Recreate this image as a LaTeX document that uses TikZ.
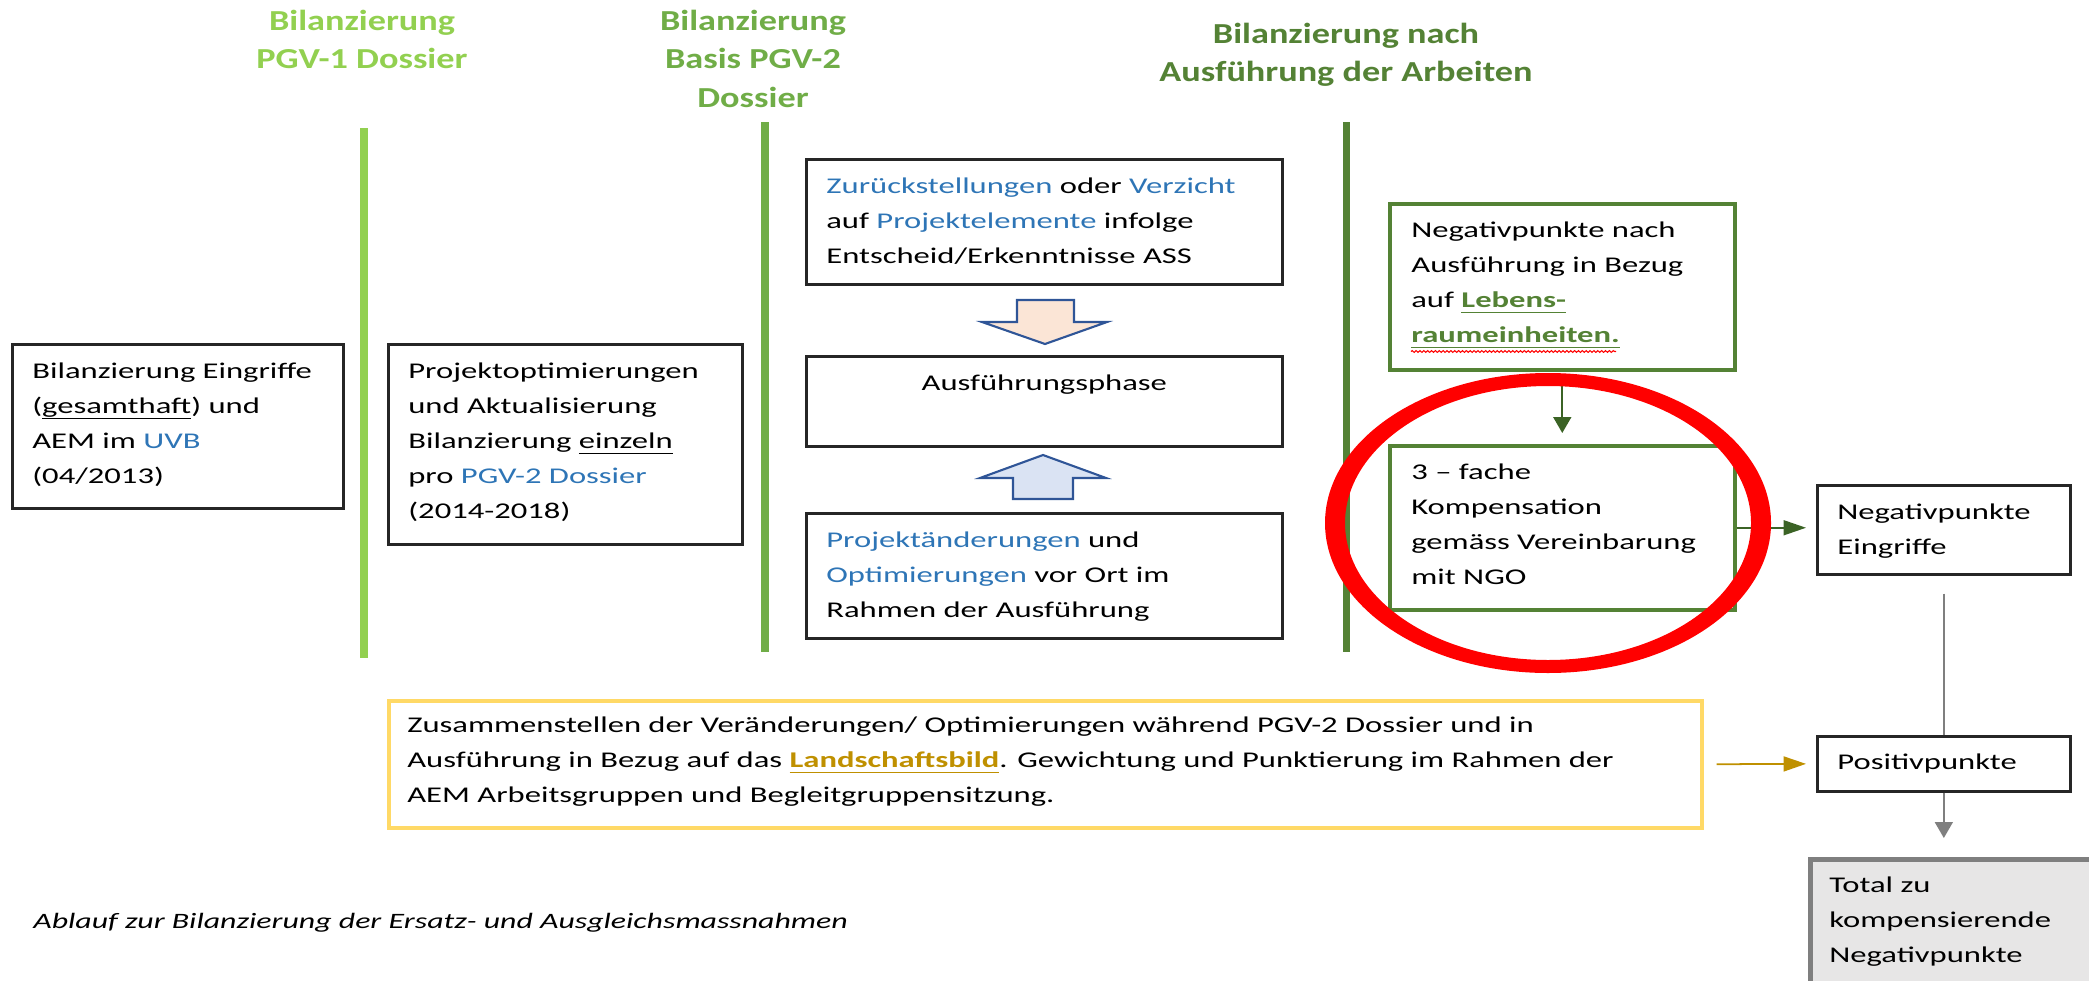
\documentclass[tikz,border=0pt]{standalone}
\usepackage{fontspec}
\setmainfont{Carlito}[FakeStretch=1.45]
\newfontfamily\headfont{Carlito}[FakeStretch=1.25]
\usetikzlibrary{positioning,arrows.meta,decorations.pathmorphing}

\definecolor{wordblue}{HTML}{2E75B6}
\definecolor{greenA}{HTML}{92D050}
\definecolor{greenB}{HTML}{70AD47}
\definecolor{greenC}{HTML}{548235}
\definecolor{arrowgreen}{HTML}{3B6325}
\definecolor{gold}{HTML}{BF9000}
\definecolor{yellowline}{HTML}{FFD966}
\definecolor{peach}{HTML}{FBE5D6}
\definecolor{paleblue}{HTML}{DAE3F3}
\definecolor{arrowblue}{HTML}{2F5597}
\definecolor{totalfill}{HTML}{E7E6E6}
\definecolor{totalline}{HTML}{7F7F7F}

\newcommand\bodyfont{\fontsize{12.8}{19.9}\selectfont}
\newcommand\headerfont{\headfont\bfseries\fontsize{16.5}{21.9}\selectfont}
\newcommand\kw[1]{\textcolor{wordblue}{#1}}
\newcommand\ulw[1]{\setbox0\hbox{#1}\rlap{\vrule height -2.2pt depth 3pt width \wd0}\box0}
\newcommand\ulgreen[1]{\textcolor{greenC}{\bfseries\ulw{#1}}}

\begin{document}
\begin{tikzpicture}[
    box/.style={draw=black!85, line width=1.5pt, anchor=north west, inner sep=0pt},
    greenbox/.style={box, draw=greenC, line width=2pt},
    txt/.style={inner sep=0pt, align=left, font=\bodyfont},
    head/.style={inner sep=0pt, align=center, anchor=north, font=\headerfont},
    phase/.style={line width=4pt},
    blockarrow/.style={draw=arrowblue, line width=1.2pt},
    flow/.style={line width=1pt, -{Triangle[length=0.32cm, width=0.36cm]}},
    sideflow/.style={line width=1pt, -{Triangle[length=0.45cm, width=0.3cm]}}
]
    \useasboundingbox (0,0) rectangle (41.78,-19.6);
    \clip (0,0) rectangle (41.78,-19.6);

    % column headers
    \node[head, text=greenA] (headPGVone) at (7.24,-0.19) {Bilanzierung\\PGV-1 Dossier};
    \node[head, text=greenB] (headPGVtwo) at (15.06,-0.19) {Bilanzierung\\Basis PGV-2\\Dossier};
    \node[head, text=greenC] (headAusf) at (26.92,-0.45) {Bilanzierung nach\\Ausführung der Arbeiten};

    % phase separators
    \draw[phase, greenA] (7.28,-2.56) -- (7.28,-13.16);
    \draw[phase, greenB] (15.30,-2.44) -- (15.30,-13.04);
    \draw[phase, greenC] (26.92,-2.44) -- (26.92,-13.04);

    % left boxes
    \node[box, minimum width=6.62cm, minimum height=3.28cm] (boxUVB) at (0.22,-6.86) {};
    \node[txt, below right=0.40cm and 0.42cm of boxUVB.north west] (txtUVB)
        {Bilanzierung Eingriffe\\(\ulw{gesamthaft}) und\\AEM im \kw{UVB}\\(04/2013)};
    \node[box, minimum width=7.08cm, minimum height=4cm] (boxDossier) at (7.74,-6.86) {};
    \node[txt, below right=0.40cm and 0.42cm of boxDossier.north west] (txtDossier)
        {Projektoptimierungen\\und Aktualisierung\\Bilanzierung \ulw{einzeln}\\pro \kw{PGV-2 Dossier}\\(2014-2018)};

    % execution column
    \node[box, minimum width=9.52cm, minimum height=2.5cm] (boxVerzicht) at (16.10,-3.16) {};
    \node[txt, below right=0.40cm and 0.42cm of boxVerzicht.north west] (txtVerzicht)
        {\kw{Zurückstellungen} oder \kw{Verzicht}\\auf \kw{Projektelemente} infolge\\Entscheid/Erkenntnisse ASS};
    \node[box, minimum width=9.52cm, minimum height=1.8cm] (boxPhase) at (16.10,-7.10) {};
    \node[txt, below=0.40cm of boxPhase.north] (txtPhase) {Ausführungsphase};
    \node[box, minimum width=9.52cm, minimum height=2.5cm] (boxAenderung) at (16.10,-10.24) {};
    \node[txt, below right=0.40cm and 0.42cm of boxAenderung.north west] (txtAenderung)
        {\kw{Projektänderungen} und\\\kw{Optimierungen} vor Ort im\\Rahmen der Ausführung};
    \filldraw[blockarrow, fill=peach] (20.34,-6.00) -- (21.48,-6.00) -- (21.48,-6.44) -- (22.14,-6.44)
        -- (20.90,-6.88) -- (19.64,-6.44) -- (20.34,-6.44) -- cycle;
    \filldraw[blockarrow, fill=paleblue] (20.26,-9.98) -- (21.46,-9.98) -- (21.46,-9.56) -- (22.12,-9.56)
        -- (20.86,-9.10) -- (19.60,-9.56) -- (20.26,-9.56) -- cycle;

    % after execution
    \node[greenbox, minimum width=6.9cm, minimum height=3.32cm] (boxNeg) at (27.76,-4.04) {};
    \node[txt, below right=0.40cm and 0.46cm of boxNeg.north west] (txtNeg)
        {Negativpunkte nach\\Ausführung in Bezug\\auf \ulgreen{Lebens-}\\\ulgreen{raumeinheiten.}};
    \draw[red, line width=0.6pt, decorate, decoration={snake, amplitude=0.5pt, segment length=2.2pt}]
        ([yshift=-1.7pt]txtNeg.south west) -- ++(4.1,0);
    \node[greenbox, minimum width=6.9cm, minimum height=3.28cm] (boxNGO) at (27.76,-8.88) {};
    \node[txt, below right=0.40cm and 0.46cm of boxNGO.north west] (txtNGO)
        {3 – fache\\Kompensation\\gemäss Vereinbarung\\mit NGO};

    % landscape
    \node[box, draw=yellowline, line width=2pt, minimum width=26.26cm, minimum height=2.54cm] (boxLand) at (7.74,-13.98) {};
    \node[txt, below right=0.36cm and 0.40cm of boxLand.north west] (txtLand)
        {Zusammenstellen der Veränderungen/ Optimierungen während PGV-2 Dossier und in\\
         Ausführung in Bezug auf das \textcolor{gold}{\bfseries\ulw{Landschaftsbild}}. Gewichtung und Punktierung im Rahmen der\\
         AEM Arbeitsgruppen und Begleitgruppensitzung.};

    % totals
    \node[box, minimum width=5.06cm, minimum height=1.78cm] (boxEingr) at (36.32,-9.68) {};
    \node[txt, below right=0.40cm and 0.42cm of boxEingr.north west] (txtEingr) {Negativpunkte\\Eingriffe};
    \node[box, minimum width=5.06cm, minimum height=1.1cm] (boxPos) at (36.32,-14.70) {};
    \node[txt, below right=0.38cm and 0.42cm of boxPos.north west] (txtPos) {Positivpunkte};
    \node[box, draw=totalline, fill=totalfill, line width=2.8pt, minimum width=6cm, minimum height=3cm] (boxTotal) at (36.16,-17.14) {};
    \node[txt, below right=0.40cm and 0.42cm of boxTotal.north west] (txtTotal) {Total zu\\kompensierende\\Negativpunkte};

    % connectors
    \draw[flow, arrowgreen, shorten <=0.1cm, shorten >=0.22cm] (boxNeg.south) -- (boxNGO.north);
    \draw[sideflow, arrowgreen] (boxNGO.east) -- ([xshift=-0.2cm]boxNGO.east -| boxEingr.west);
    \draw[sideflow, gold, shorten <=0.26cm, shorten >=0.2cm] (boxLand.east) -- (boxPos.west);
    \draw[line width=1pt, totalline, shorten <=0.36cm] (boxEingr.south) -- (boxPos.north);
    \draw[flow, totalline, shorten >=0.38cm] (boxPos.south) -- (boxPos.south |- boxTotal.north);

    % highlight
    \fill[red, even odd rule] (30.96,-10.46) ellipse [x radius=4.46cm, y radius=3cm]
        (30.96,-10.46) ellipse [x radius=4.06cm, y radius=2.74cm];

    \node[inner sep=0pt, anchor=base west, font=\fontsize{12.5}{19.9}\selectfont\itshape] (caption) at (0.66,-18.56)
        {Ablauf zur Bilanzierung der Ersatz- und Ausgleichsmassnahmen};
\end{tikzpicture}
\end{document}
